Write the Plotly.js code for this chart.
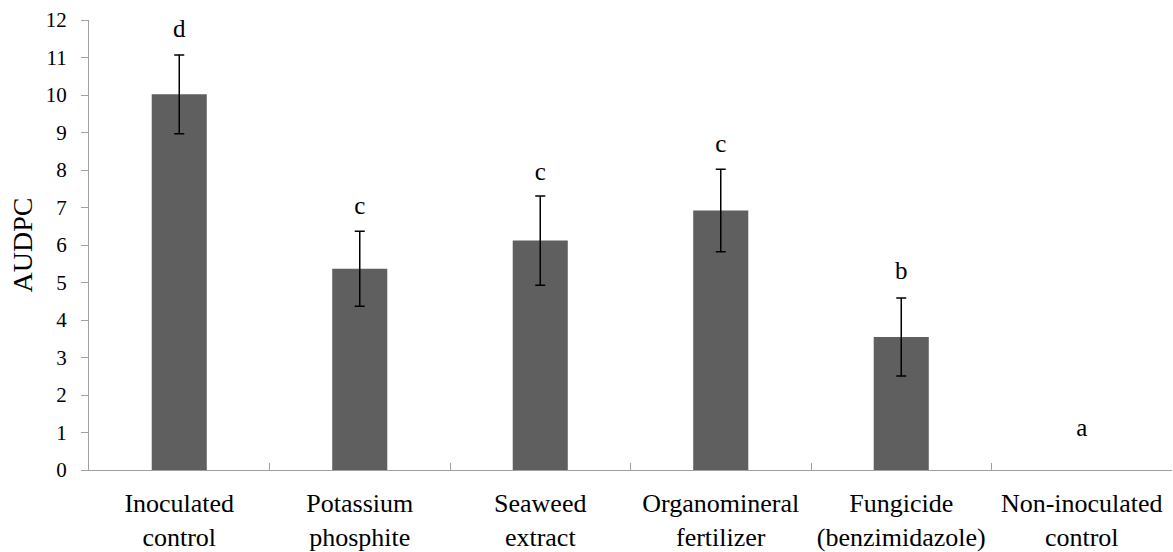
<!DOCTYPE html>
<html>
<head>
<meta charset="utf-8">
<script src="https://cdn.plot.ly/plotly-3.0.1.min.js"></script>
<style>html,body{margin:0;padding:0;background:#fff;}#chart{width:1173px;height:552px;}</style>
</head>
<body>
<div id="chart"></div>
<script>
var categories = ["Inoculated<br>control", "Potassium<br>phosphite", "Seaweed<br>extract", "Organomineral<br>fertilizer", "Fungicide<br>(benzimidazole)", "Non-inoculated<br>control"];
var audpc = [10.02, 5.37, 6.12, 6.92, 3.55, 0];
var errors = [1.05, 1.0, 1.19, 1.1, 1.04, NaN];
var letters = ["d", "c", "c", "c", "b", "a"];
var letterY = [11.72, 7.0, 7.9, 8.65, 5.26, 1.07];

var fam = "Liberation Serif";
var trace = {type: "bar", x: categories, y: audpc, width: 0.305,
  marker: {color: "#5f5f5f", line: {width: 0}},
  error_y: {type: "data", array: errors, visible: true, color: "#000000", thickness: 1.5, width: 5},
  hoverinfo: "skip"};
var letterTrace = {type: "scatter", mode: "text", x: categories, y: letterY, text: letters,
  textposition: "middle center", textfont: {family: fam, size: 25, color: "#000"}, hoverinfo: "skip"};
var layout = {
  width: 1173, height: 552, margin: {l: 89, r: 1, t: 20, b: 82},
  showlegend: false,
  font: {family: fam, color: "#000"},
  xaxis: {type: "category", range: [-0.5, 5.5], showline: true, linecolor: "#a0a0a0", linewidth: 1,
    ticks: "inside", tickson: "boundaries", ticklen: 7, tickcolor: "#a0a0a0", tickangle: 0,
    tickfont: {family: fam, size: 26, color: "#000"}, ticklabelstandoff: 10, showgrid: false, zeroline: false},
  yaxis: {range: [0, 12], dtick: 1, showline: true, linecolor: "#a0a0a0", ticks: "outside", ticklen: 7,
    tickcolor: "#a0a0a0",
    tickfont: {family: fam, size: 21, color: "#000"}, ticklabelstandoff: 10, showgrid: false, zeroline: false,
    title: {text: "AUDPC", font: {family: fam, size: 28}, standoff: 4}}
};
Plotly.newPlot("chart", [trace, letterTrace], layout, {displayModeBar: false, staticPlot: true}).then(function(){
  document.querySelectorAll('#chart text').forEach(function(el){ el.style.fontFamily = '"Liberation Serif", serif'; });
});
</script>
</body>
</html>
